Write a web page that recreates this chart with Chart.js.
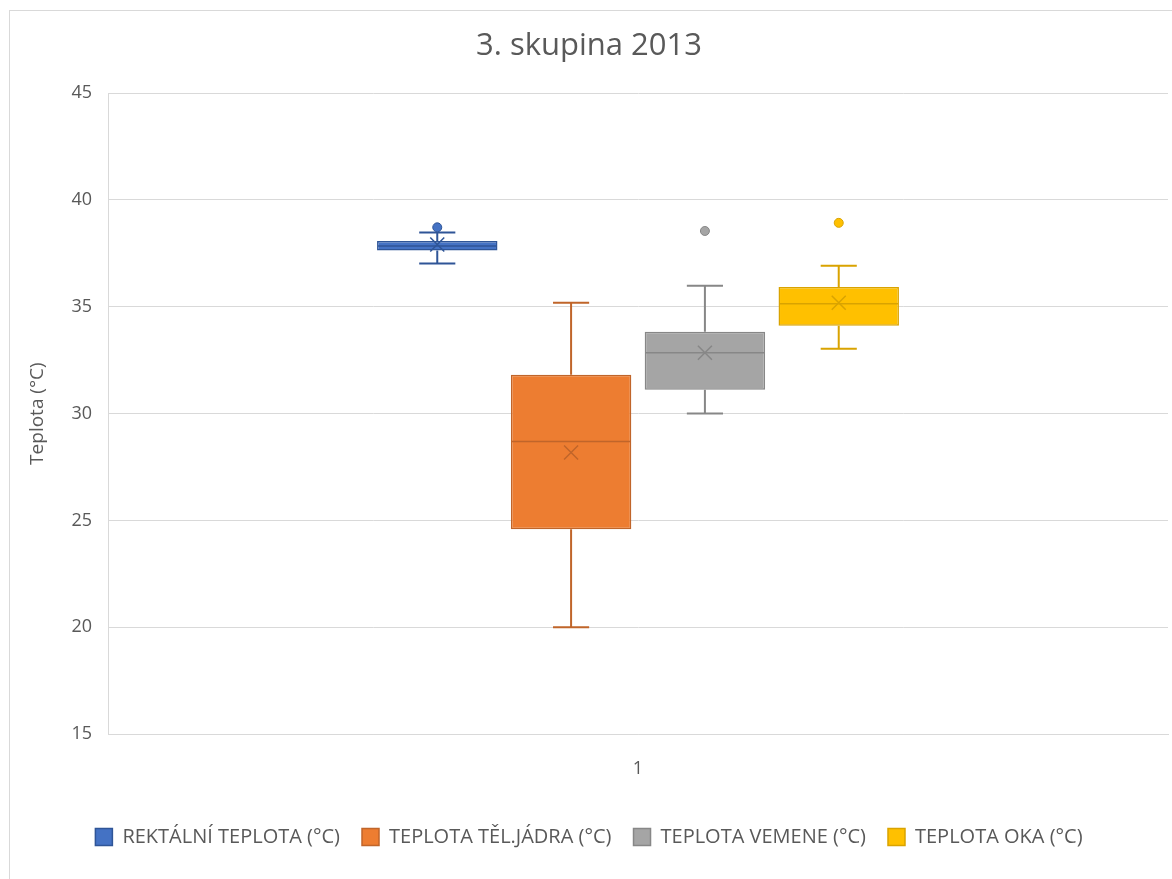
<!DOCTYPE html>
<html>
<head>
<meta charset="utf-8">
<title>3. skupina 2013</title>
<script src="https://cdn.jsdelivr.net/npm/chart.js@4/dist/chart.umd.min.js"></script>
<style>
  html, body { margin: 0; padding: 0; background: #fff; overflow: hidden; }
  #wrap { position: relative; width: 1172px; height: 879px; }
  #frame {
    position: absolute; left: 9px; top: 10px; width: 1200px; height: 900px;
    border: 1px solid #d9d9d9; pointer-events: none;
  }
</style>
</head>
<body>
<div id="wrap">
  <canvas id="chart" width="1172" height="879"></canvas>
  <div id="frame"></div>
</div>
<script>
// box plot data
const categories = ['1'];
const seriesNames = [
  'REKTÁLNÍ TEPLOTA (°C)',
  'TEPLOTA TĚL.JÁDRA (°C)',
  'TEPLOTA VEMENE (°C)',
  'TEPLOTA OKA (°C)'
];
const q1Values = [37.63, 24.58, 31.12, 34.11];
const q3Values = [38.08, 31.82, 33.83, 35.93];
const medianValues = [37.85, 28.69, 32.85, 35.14];
const meanValues = [37.92, 28.18, 32.85, 35.19];
const whiskerLow = [37.03, 20.0, 30.0, 33.04];
const whiskerHigh = [38.48, 35.19, 35.98, 36.92];
const outlierValues = [[38.72], [], [38.55], [38.93]];
const yTicks = [15, 20, 25, 30, 35, 40, 45];

const fillColors = ['#4472C4', '#ED7D31', '#A5A5A5', '#FFC000'];
const lineColors = ['#2F5597', '#C0652A', '#878787', '#D9A300'];

const FONT = "'Open Sans', 'Noto Sans', sans-serif";
const TEXT = '#595959';
const GRID = '#d9d9d9';

// whiskers, median, mean and outliers on top of the floating bars
const boxExtras = {
  id: 'boxExtras',
  afterDatasetsDraw(chart) {
    const ctx = chart.ctx;
    const y = chart.scales.y;
    chart.data.datasets.forEach((ds, i) => {
      if (!chart.isDatasetVisible(i)) return;
      const bar = chart.getDatasetMeta(i).data[0];
      const x = bar.x;
      const w = bar.width;
      const cap = w * 0.15;
      const left = x - w / 2, right = x + w / 2;

      ctx.save();
      ctx.strokeStyle = lineColors[i];
      ctx.lineWidth = 2;

      const yHi = y.getPixelForValue(whiskerHigh[i]);
      const yLo = y.getPixelForValue(whiskerLow[i]);
      const yQ1 = y.getPixelForValue(q1Values[i]);
      const yQ3 = y.getPixelForValue(q3Values[i]);

      ctx.beginPath();
      ctx.moveTo(x, yQ3); ctx.lineTo(x, yHi);
      ctx.moveTo(x - cap, yHi); ctx.lineTo(x + cap, yHi);
      ctx.moveTo(x, yQ1); ctx.lineTo(x, yLo);
      ctx.moveTo(x - cap, yLo); ctx.lineTo(x + cap, yLo);
      ctx.stroke();

      // median
      const yMed = y.getPixelForValue(medianValues[i]);
      ctx.lineWidth = 1.5;
      ctx.beginPath();
      ctx.moveTo(left + 1, yMed); ctx.lineTo(right - 1, yMed);
      ctx.stroke();

      // mean marker
      const yMean = y.getPixelForValue(meanValues[i]);
      const m = 7;
      ctx.beginPath();
      ctx.moveTo(x - m, yMean - m); ctx.lineTo(x + m, yMean + m);
      ctx.moveTo(x - m, yMean + m); ctx.lineTo(x + m, yMean - m);
      ctx.stroke();

      // outliers
      outlierValues[i].forEach(v => {
        ctx.beginPath();
        ctx.arc(x, y.getPixelForValue(v), 4.5, 0, Math.PI * 2);
        ctx.fillStyle = fillColors[i];
        ctx.fill();
        ctx.lineWidth = 1;
        ctx.stroke();
      });
      ctx.restore();
    });
  }
};

const datasets = seriesNames.map((name, i) => ({
  label: name,
  data: [[q1Values[i], q3Values[i]]],
  backgroundColor: fillColors[i],
  borderColor: lineColors[i],
  borderWidth: 1.5,
  borderSkipped: false,
  categoryPercentage: 0.505,
  barPercentage: 0.9
}));

new Chart(document.getElementById('chart'), {
  type: 'bar',
  data: { labels: categories, datasets: datasets },
  options: {
    responsive: false,
    animation: false,
    layout: { padding: { left: 10, right: 4, top: 0, bottom: 22 } },
    plugins: {
      tooltip: { enabled: false },
      title: {
        display: true,
        text: '3. skupina 2013',
        color: TEXT,
        font: { family: FONT, size: 31, weight: 'normal' },
        padding: { top: 28, bottom: 28 }
      },
      legend: {
        position: 'bottom',
        labels: {
          color: TEXT,
          font: { family: FONT, size: 20 },
          boxWidth: 17,
          boxHeight: 17,
          padding: 22
        }
      }
    },
    scales: {
      x: {
        grid: { display: false, drawTicks: false },
        border: { display: true, color: GRID },
        ticks: { color: TEXT, font: { family: FONT, size: 18 }, padding: 24 },
        afterFit: s => { s.height = 71; }
      },
      y: {
        min: 15,
        max: 45,
        afterBuildTicks: s => { s.ticks = yTicks.map(v => ({ value: v })); },
        grid: { color: GRID, drawTicks: false },
        border: { display: true, color: GRID },
        ticks: { color: TEXT, font: { family: FONT, size: 18 }, padding: 16 },
        title: {
          display: true,
          text: 'Teplota (°C)',
          color: TEXT,
          font: { family: FONT, size: 19 },
          padding: { top: 16, bottom: 0 }
        },
        afterFit: s => { s.width = 98; }
      }
    }
  },
  plugins: [boxExtras]
});
</script>
</body>
</html>
